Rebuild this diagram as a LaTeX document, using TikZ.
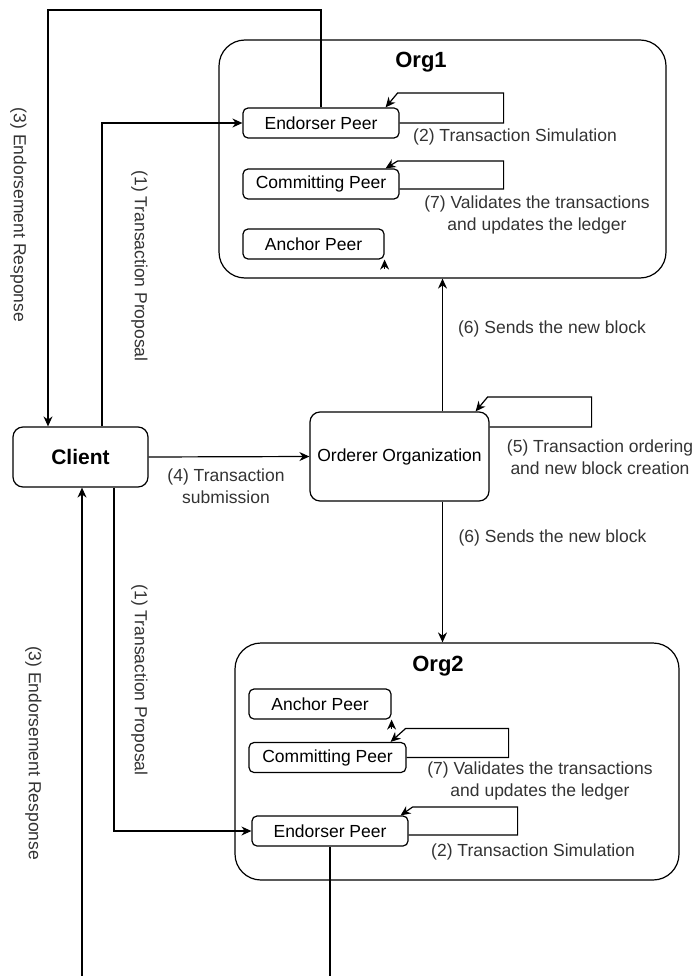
\documentclass[tikz,border=0pt]{standalone}
\usepackage{fontspec}
\setmainfont{Liberation Sans}
\usetikzlibrary{positioning, arrows.meta, calc}
\usepackage{xcolor}

\tikzset{
    peer/.style={draw, rounded corners=5pt, minimum height=30pt, inner sep=0pt, font=\fontsize{17.5}{21}\selectfont},
    orgbox/.style={draw, rounded corners=26pt, inner sep=0pt},
    mainbox/.style={draw, rounded corners=10pt, inner sep=0pt},
    orgtitle/.style={font=\fontsize{22}{26}\selectfont\bfseries},
    lbl/.style={font=\fontsize{17.5}{22}\selectfont, text=black!80, align=center},
    conn/.style={-{Stealth[length=10pt,width=9pt]}},
}

\begin{document}
\begin{tikzpicture}[x=1pt, y=-1pt, line width=1.2pt]
            \useasboundingbox (0,0) rectangle (696,976);

            \node[orgbox, minimum width=447pt, minimum height=238pt] (org1) at (442.5,159) {};
            \node[orgtitle] (org1t) at (421,62) {Org1};
            \node[peer, minimum width=156pt] (end1) at (321,123) {Endorser Peer};
            \node[peer, minimum width=156pt] (com1) at (321,184) {Committing Peer};
            \node[peer, minimum width=141pt] (anc1) at (313.5,244) {Anchor Peer};

            \node[mainbox, minimum width=135pt, minimum height=60pt, font=\fontsize{21}{25}\selectfont\bfseries] (client) at (80.5,457) {Client};
            \node[mainbox, minimum width=179pt, minimum height=89pt, font=\fontsize{17.5}{21}\selectfont] (ord) at (399.5,456.5) {Orderer Organization};

            \node[orgbox, minimum width=444pt, minimum height=237pt] (org2) at (457,761.5) {};
            \node[orgtitle] (org2t) at (438,666) {Org2};
            \node[peer, minimum width=142pt] (anc2) at (320,704) {Anchor Peer};
            \node[peer, minimum width=157pt] (com2) at (327.5,757.5) {Committing Peer};
            \node[peer, minimum width=156pt] (end2) at (330,831) {Endorser Peer};

            % self loops
            \draw[conn] (end1.east) -- ++(104,0) -- ++(0,-30) -- ++(-106,0) -- ([xshift=-14pt]end1.north east);
            \draw[conn] ([yshift=-5pt]com1.east) -- ++(104,0) -- ++(0,-28) -- ++(-106,0) -- ([xshift=-14pt]com1.north east);
            \draw[conn] ([yshift=29.5pt]ord.east) -- ++(102,0) -- ++(0,-30) -- ++(-104,0) -- ([xshift=-14pt]ord.north east);
            \draw[conn] (com2.east) -- ++(102,0) -- ++(0,-29) -- ++(-103,0) -- ([xshift=-16pt]com2.north east);
            \draw[conn] ([yshift=-4pt]end2.east) -- ++(109,0) -- ++(0,-28) -- ++(-105,0) -- ([xshift=-8pt]end2.north east);
            \draw[conn] ([yshift=-9pt]anc1.south east) -- (anc1.south east);
            \draw[conn] ([yshift=-9pt]anc2.south east) -- (anc2.south east);

            \coordinate (top) at (48,10);
            \coordinate (bot) at (82,995);
            \draw[conn] (end1.north) |- (top) -- (top |- client.north);
            \draw[conn] ([xshift=21.5pt]client.north) |- (end1.west);
            \draw[conn] (client.east) -- (ord.west);
            \draw[conn] (org1.south |- ord.north) -- (org1.south);
            \draw[conn] (org1.south |- ord.south) -- (org1.south |- org2.north);
            \draw[conn] ([xshift=33.5pt]client.south) |- (end2.west);
            \draw[conn] (end2.south) |- (bot) -- (bot |- client.south);

            \node[lbl] (sim1) at (515,137) {(2) Transaction Simulation};
            \node[lbl] (val1) at (537,215) {(7) Validates the transactions\\and updates the ledger};
            \node[lbl] (sub) at (226,486.5) {(4) Transaction\\submission};
            \node[lbl] (order) at (600,457) {(5) Transaction ordering\\and new block creation};
            \node[lbl] (send1) at (552,329) {(6) Sends the new block};
            \node[lbl] (send2) at (552.5,538) {(6) Sends the new block};
            \node[lbl] (val2) at (540,781) {(7) Validates the transactions\\and updates the ledger};
            \node[lbl] (sim2) at (533,852) {(2) Transaction Simulation};
            \node[lbl, rotate=-90] (resp1) at (18.5,215) {(3) Endorsement Response};
            \node[lbl, rotate=-90] (prop1) at (139.5,266) {(1) Transaction Proposal};
            \node[lbl, rotate=-90] (prop2) at (139.5,680) {(1) Transaction Proposal};
            \node[lbl, rotate=-90] (resp2) at (33.5,753) {(3) Endorsement Response};
        \end{tikzpicture}
\end{document}
